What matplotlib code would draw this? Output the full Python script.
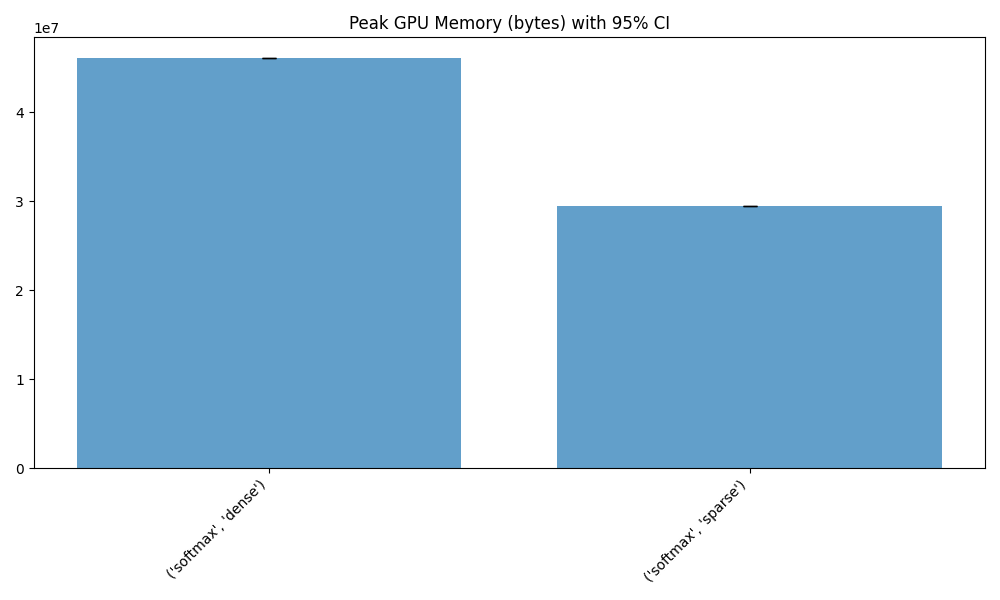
import matplotlib
matplotlib.use('Agg')
import matplotlib.pyplot as plt

# Datos
labels = ["('softmax', 'dense')", "('softmax', 'sparse')"]
means = [4.607e7, 2.947e7]
ci = [0.02e6, 0.02e6]

fig, ax = plt.subplots(figsize=(10, 6), dpi=100)
x = range(len(labels))
ax.bar(x, means, yerr=ci, capsize=5, alpha=0.7)
ax.set_xticks(list(x))
ax.set_xticklabels(labels, rotation=45, ha='right')
ax.set_title('Peak GPU Memory (bytes) with 95% CI')
plt.tight_layout()
plt.savefig('out.png')
